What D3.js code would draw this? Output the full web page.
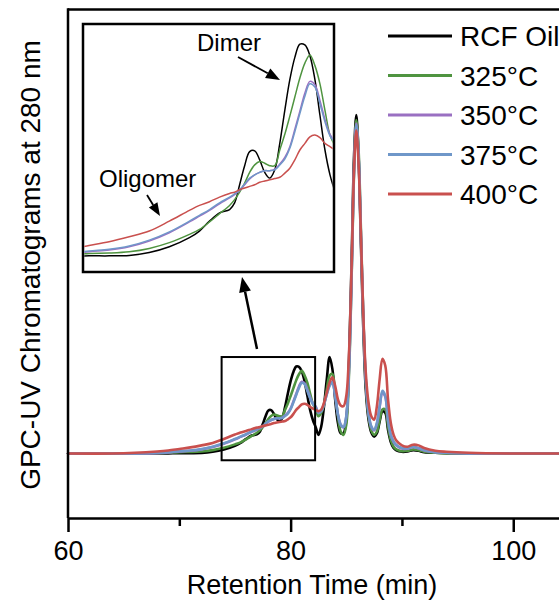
<!doctype html>
<meta charset="utf-8">
<style>
body { margin: 0; background: #fff; }
text { font-family: "Liberation Sans", Arial, sans-serif; fill: #000; }
.line { fill: none; stroke-linejoin: round; stroke-linecap: round; }
</style>
<html lang="en">
<body>
<script src="https://cdnjs.cloudflare.com/ajax/libs/d3/7.8.5/d3.min.js"></script>
<script>
// retention time grid (min)
var times = [60, 64, 66, 68, 69,
  70, 71, 72, 73, 74, 75,
  75.5, 76, 76.5, 77,
  77.25, 77.5, 77.75, 78, 78.25, 78.5, 78.75, 79, 79.25, 79.5, 79.75, 80, 80.25, 80.5, 80.75, 81, 81.25, 81.5, 81.75, 82, 82.25,
  82.5, 82.75, 83, 83.25, 83.5, 83.75, 84, 84.25, 84.5, 84.75, 85, 85.25,
  85.5, 85.7, 85.9, 86.1, 86.3, 86.5,
  86.75, 87, 87.25, 87.5, 87.75, 88, 88.25, 88.5, 88.75, 89, 89.25, 89.5,
  90, 90.5, 91, 91.5, 92, 93, 94, 96, 100, 105];

// normalised UV signal
var rcfOil = [0, 0, 0, 0, 0.0005,
  0.001, 0.001, 0.0015, 0.005, 0.012, 0.023,
  0.031, 0.043, 0.053, 0.057,
  0.065, 0.087, 0.110, 0.127, 0.128, 0.117, 0.102, 0.095, 0.105, 0.137, 0.177, 0.214, 0.241, 0.257, 0.256, 0.243, 0.214, 0.171, 0.129, 0.099, 0.078,
  0.055, 0.08, 0.14, 0.22, 0.285, 0.25, 0.16, 0.09, 0.06, 0.06, 0.10, 0.28,
  0.60, 0.88, 1.0, 0.88, 0.64, 0.40,
  0.19, 0.10, 0.062, 0.05, 0.06, 0.095, 0.125, 0.12, 0.07, 0.034, 0.016, 0.009,
  0.005, 0.006, 0.01, 0.008, 0.004, 0.002, 0.001, 0, 0, 0];

var t325 = [0, 0, 0, 0.001, 0.002,
  0.004, 0.0045, 0.006, 0.010, 0.017, 0.027,
  0.033, 0.042, 0.052, 0.062,
  0.069, 0.078, 0.089, 0.102, 0.111, 0.115, 0.113, 0.110, 0.110, 0.129, 0.148, 0.170, 0.193, 0.216, 0.234, 0.244, 0.231, 0.209, 0.177, 0.147, 0.133,
  0.11, 0.12, 0.145, 0.19, 0.23, 0.235, 0.18, 0.11, 0.065, 0.055, 0.085, 0.24,
  0.55, 0.84, 0.985, 0.90, 0.68, 0.44,
  0.21, 0.11, 0.068, 0.055, 0.065, 0.10, 0.13, 0.13, 0.08, 0.04, 0.02, 0.012,
  0.007, 0.008, 0.012, 0.01, 0.005, 0.002, 0.001, 0, 0, 0];

var t350 = [0, 0, 0, 0.001, 0.003,
  0.006, 0.008, 0.012, 0.019, 0.029, 0.042,
  0.049, 0.056, 0.064, 0.071,
  0.075, 0.080, 0.087, 0.094, 0.099, 0.102, 0.104, 0.104, 0.106, 0.112, 0.120, 0.133, 0.154, 0.176, 0.198, 0.212, 0.208, 0.189, 0.166, 0.148, 0.139,
  0.121, 0.126, 0.146, 0.176, 0.202, 0.212, 0.172, 0.116, 0.085, 0.077, 0.108, 0.255,
  0.56, 0.845, 0.975, 0.885, 0.665, 0.435,
  0.22, 0.118, 0.078, 0.068, 0.088, 0.138, 0.18, 0.168, 0.098, 0.054, 0.034, 0.024,
  0.015, 0.014, 0.019, 0.015, 0.009, 0.004, 0.002, 0.0005, 0, 0];

var t375 = [0, 0, 0, 0.002, 0.004,
  0.007, 0.009, 0.013, 0.020, 0.030, 0.043,
  0.050, 0.057, 0.065, 0.072,
  0.076, 0.081, 0.088, 0.095, 0.099, 0.102, 0.104, 0.104, 0.105, 0.111, 0.118, 0.131, 0.151, 0.173, 0.194, 0.209, 0.205, 0.185, 0.163, 0.146, 0.137,
  0.12, 0.125, 0.145, 0.175, 0.20, 0.21, 0.17, 0.115, 0.085, 0.078, 0.11, 0.26,
  0.56, 0.84, 0.97, 0.88, 0.66, 0.43,
  0.22, 0.12, 0.08, 0.07, 0.09, 0.14, 0.185, 0.17, 0.10, 0.055, 0.035, 0.025,
  0.016, 0.015, 0.02, 0.016, 0.01, 0.004, 0.002, 0.0005, 0, 0];

var t400 = [0, 0, 0.002, 0.006, 0.009,
  0.0135, 0.018, 0.024, 0.031, 0.043, 0.056,
  0.062, 0.0665, 0.072, 0.0765,
  0.078, 0.081, 0.083, 0.085, 0.087, 0.090, 0.0915, 0.093, 0.0945, 0.096, 0.101, 0.107, 0.117, 0.129, 0.137, 0.145, 0.147, 0.144, 0.137, 0.133, 0.129,
  0.125, 0.13, 0.15, 0.18, 0.21, 0.225, 0.20, 0.16, 0.142, 0.14, 0.17, 0.30,
  0.58, 0.84, 0.955, 0.86, 0.66, 0.44,
  0.24, 0.15, 0.11, 0.10, 0.14, 0.22, 0.28, 0.26, 0.16, 0.09, 0.055, 0.038,
  0.024, 0.02, 0.026, 0.024, 0.016, 0.008, 0.005, 0.002, 0, 0];

var seriesNames = ["RCF Oil", "325°C", "350°C", "375°C", "400°C"];
var seriesColors = ["#000000", "#4f9440", "#9a70c2", "#6f97c9", "#c9504e"];
var seriesValues = [rcfOil, t325, t350, t375, t400];

var xTicks = [60, 80, 100];
var xMinorTicks = [70, 90];

var width = 559, height = 601;

var svg = d3.select("body").append("svg")
    .attr("width", width)
    .attr("height", height);

// main scales
var x = d3.scaleLinear().domain([60, 104.2]).range([68, 560]);
var y = d3.scaleLinear().domain([0, 1]).range([453.5, 115]);

// inset scales
var xi = d3.scaleLinear().domain([69.7, 82.2]).range([83, 334]);
var yi = d3.scaleLinear().domain([0, 0.258]).range([256.7, 43.3]);

var data = seriesValues.map(function(vals) {
  return times.map(function(t, i) { return {t: t, v: vals[i]}; });
});

var line = d3.line()
    .x(function(d) { return x(d.t); })
    .y(function(d) { return y(d.v); })
    .curve(d3.curveCatmullRom.alpha(0.5));

var lineInset = d3.line()
    .x(function(d) { return xi(d.t); })
    .y(function(d) { return yi(d.v); })
    .curve(d3.curveCatmullRom.alpha(0.5));

// main curves
svg.append("g").selectAll("path")
    .data(data)
  .enter().append("path")
    .attr("class", "line")
    .style("stroke", function(d, i) { return seriesColors[i]; })
    .style("stroke-width", 2.6)
    .attr("d", line);

// frame: top line and left axis
svg.append("line").attr("x1", 68).attr("x2", 559).attr("y1", 9.5).attr("y2", 9.5)
    .style("stroke", "#000").style("stroke-width", 2.5);
svg.append("line").attr("x1", 68).attr("x2", 68).attr("y1", 8.3).attr("y2", 518)
    .style("stroke", "#000").style("stroke-width", 2.5);

// x axis
var axisY = 518;
var gx = svg.append("g")
    .attr("transform", "translate(0," + axisY + ")")
    .call(d3.axisBottom(x).tickValues(xTicks).tickSize(14).tickSizeOuter(0).tickPadding(9));
gx.select(".domain").style("stroke-width", 2.5);
gx.selectAll(".tick line").style("stroke-width", 2.5);
gx.selectAll(".tick text").style("font-size", "27px").style("font-family", "'Liberation Sans', Arial, sans-serif");

var gxm = svg.append("g")
    .attr("transform", "translate(0," + axisY + ")")
    .call(d3.axisBottom(x).tickValues(xMinorTicks).tickSize(8).tickFormat(""));
gxm.select(".domain").remove();
gxm.selectAll(".tick line").style("stroke-width", 2.5);

// axis titles
svg.append("text")
    .attr("x", 312).attr("y", 594)
    .attr("text-anchor", "middle")
    .style("font-size", "27px")
    .text("Retention Time (min)");

svg.append("text")
    .attr("transform", "translate(40,265) rotate(-90)")
    .attr("text-anchor", "middle")
    .style("font-size", "28px")
    .text("GPC-UV Chromatograms at 280 nm");

// zoom box in the main plot
svg.append("rect")
    .attr("x", x(73.8)).attr("y", y(0.285))
    .attr("width", x(82.2) - x(73.8)).attr("height", y(-0.02) - y(0.285))
    .style("fill", "none").style("stroke", "#000").style("stroke-width", 2);

function arrow(x1, y1, x2, y2, len, half, sw) {
  var a = Math.atan2(y2 - y1, x2 - x1);
  var bx = x2 - len * Math.cos(a), by = y2 - len * Math.sin(a);
  svg.append("line").attr("x1", x1).attr("y1", y1).attr("x2", bx).attr("y2", by)
      .style("stroke", "#000").style("stroke-width", sw);
  var p = [[x2, y2],
    [bx + half * Math.sin(a), by - half * Math.cos(a)],
    [bx - half * Math.sin(a), by + half * Math.cos(a)]];
  svg.append("path").attr("d", "M" + p.join("L") + "Z").style("fill", "#000");
}

arrow(257, 349, 242, 277, 15, 6, 2.5);

// inset
svg.append("rect")
    .attr("x", 83).attr("y", 24).attr("width", 251).attr("height", 248)
    .style("fill", "#fff").style("stroke", "#000").style("stroke-width", 2.5);

svg.append("clipPath").attr("id", "insetClip")
  .append("rect").attr("x", 84.3).attr("y", 25.3).attr("width", 248.4).attr("height", 245.4);

svg.append("g").attr("clip-path", "url(#insetClip)")
  .selectAll("path")
    .data(data)
  .enter().append("path")
    .attr("class", "line")
    .style("stroke", function(d, i) { return seriesColors[i]; })
    .style("stroke-width", 1.5)
    .attr("d", lineInset);

svg.append("text").attr("x", 197).attr("y", 51).style("font-size", "24px").text("Dimer");
arrow(238, 57, 280, 80, 14, 5.5, 1.8);
svg.append("text").attr("x", 99).attr("y", 187).style("font-size", "24px").text("Oligomer");
arrow(147, 195, 160, 216, 13, 5, 1.8);

// legend
var legend = svg.append("g").selectAll("g")
    .data(seriesNames)
  .enter().append("g")
    .attr("transform", function(d, i) { return "translate(0," + (36 + i * 39.5) + ")"; });
legend.append("line")
    .attr("x1", 388).attr("x2", 452)
    .style("stroke", function(d, i) { return seriesColors[i]; })
    .style("stroke-width", 3);
legend.append("text")
    .attr("x", 460).attr("dy", "0.36em")
    .style("font-size", "28px")
    .text(function(d) { return d; });
</script>
</body>
</html>
